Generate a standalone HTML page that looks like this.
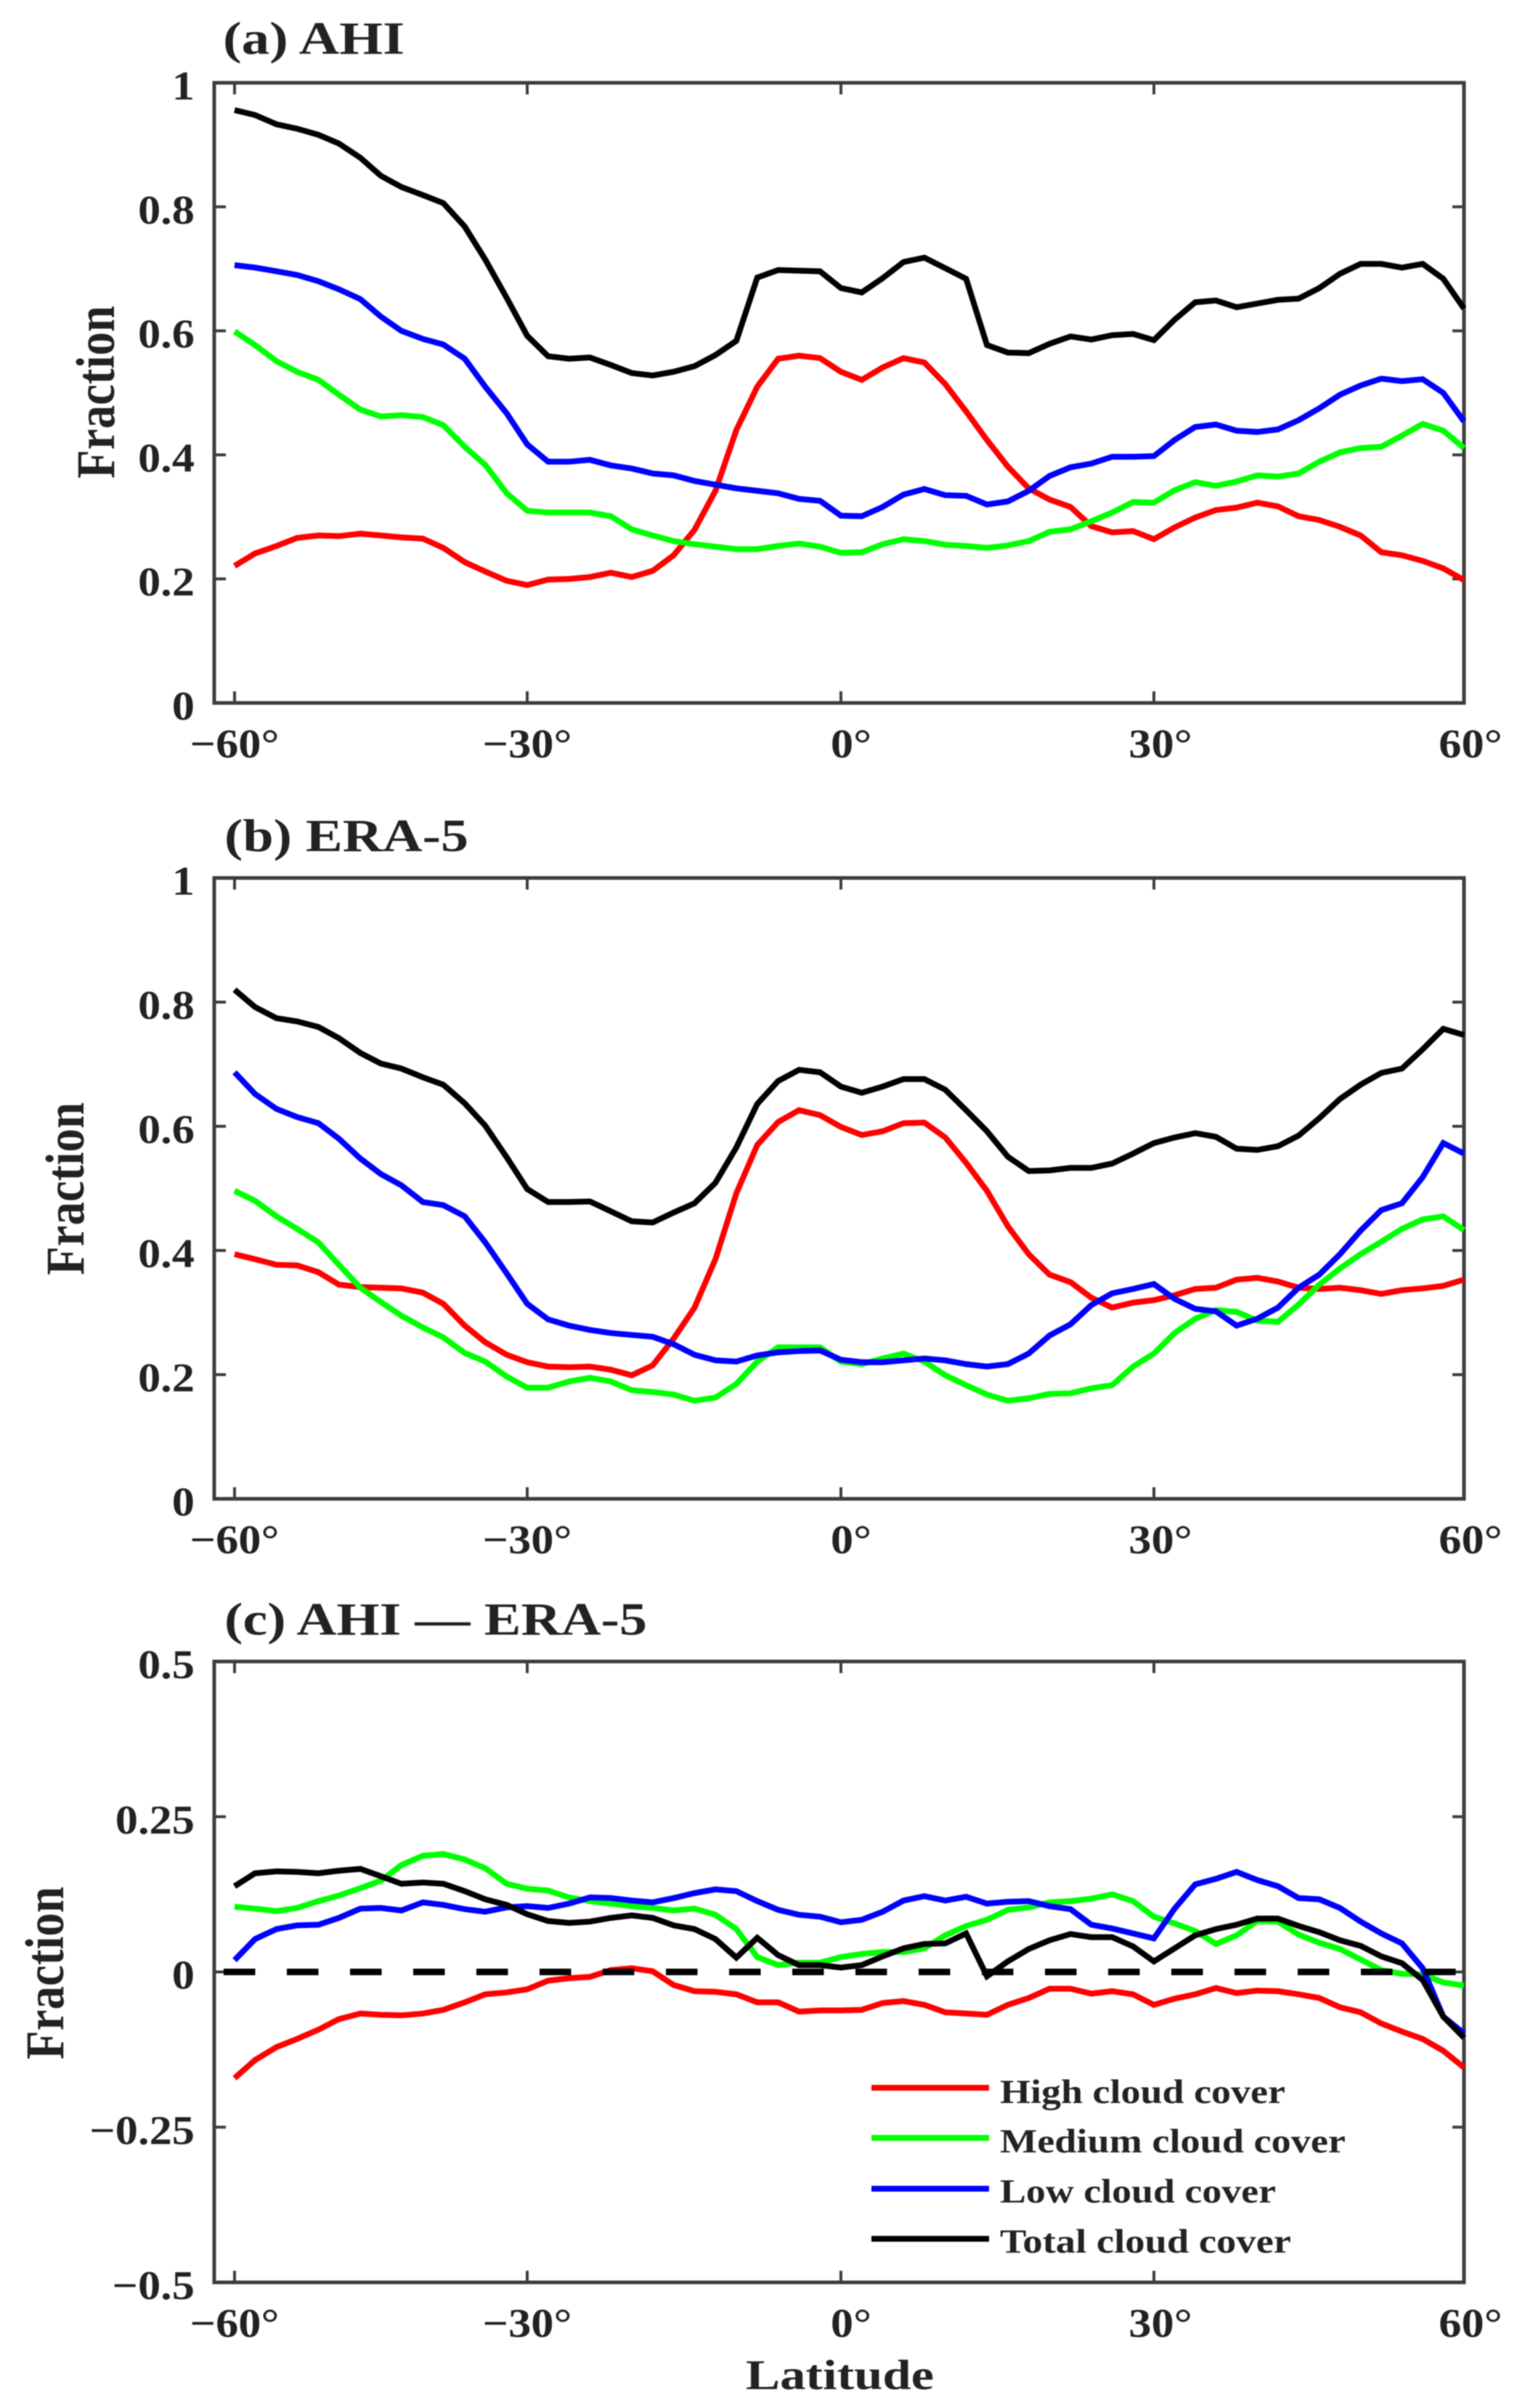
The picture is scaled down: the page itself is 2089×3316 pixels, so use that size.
<!DOCTYPE html>
<html lang="en">
<head>
<meta charset="utf-8">
<title>Cloud cover fraction by latitude</title>
<style>
html,body{margin:0;padding:0;background:#fff;width:2089px;height:3316px;overflow:hidden}
svg{display:block;filter:blur(0.8px)}
text{font-family:"Liberation Serif",serif;font-weight:bold;fill:#222}
</style>
</head>
<body>
<svg id="figure" xmlns="http://www.w3.org/2000/svg" width="2089" height="3316" viewBox="0 0 2089 3316">
  <rect x="0" y="0" width="2089" height="3316" fill="#fff"/>

  <g id="panel-a"></g>
  <g id="panel-b"></g>
  <g id="panel-c"></g>

  <text x="307" y="74" font-size="63" textLength="250" lengthAdjust="spacingAndGlyphs">(a) AHI</text>
  <text x="309" y="1172" font-size="63" textLength="336" lengthAdjust="spacingAndGlyphs">(b) ERA-5</text>
  <text x="309" y="2251" font-size="63" textLength="582" lengthAdjust="spacingAndGlyphs">(c) AHI — ERA-5</text>

  <text transform="translate(157,659) rotate(-90)" font-size="75" textLength="238" lengthAdjust="spacingAndGlyphs">Fraction</text>
  <text transform="translate(115,1756) rotate(-90)" font-size="75" textLength="238" lengthAdjust="spacingAndGlyphs">Fraction</text>
  <text transform="translate(87,2836) rotate(-90)" font-size="75" textLength="238" lengthAdjust="spacingAndGlyphs">Fraction</text>

  <text x="1027" y="3290" font-size="58" textLength="259" lengthAdjust="spacingAndGlyphs">Latitude</text>

  <g>
    <line x1="1200" x2="1362" y1="2875" y2="2875" stroke="#ff0000" stroke-width="8"/>
    <text x="1377" y="2896" font-size="47" textLength="393" lengthAdjust="spacingAndGlyphs">High cloud cover</text>
    <line x1="1200" x2="1362" y1="2944" y2="2944" stroke="#00ff00" stroke-width="8"/>
    <text x="1377" y="2964" font-size="47" textLength="476" lengthAdjust="spacingAndGlyphs">Medium cloud cover</text>
    <line x1="1200" x2="1362" y1="3014" y2="3014" stroke="#0000ff" stroke-width="8"/>
    <text x="1377" y="3033" font-size="47" textLength="380" lengthAdjust="spacingAndGlyphs">Low cloud cover</text>
    <line x1="1200" x2="1362" y1="3083" y2="3083" stroke="#000000" stroke-width="8"/>
    <text x="1377" y="3102" font-size="47" textLength="401" lengthAdjust="spacingAndGlyphs">Total cloud cover</text>
  </g>
</svg>

<script>
// ---------- Chart data ----------
const latitudes = [-60,-57.9,-55.7,-53.6,-51.4,-49.3,-47.1,-45,-42.9,-40.7,-38.6,-36.4,-34.3,-32.1,-30,
  -28,-26,-24,-22,-20,-18,-16,-14,-12,-10,-8,-6,-4,-2,0,2,4,6,8,10,12,14,16,18,20,22,24,26,28,30,
  32,34,36,38,40,42,44,46,48,50,52,54,56,58,60];

const xTickValues = [-60,-30,0,30,60];
const xTickLabels = ['−60°','−30°','0°','30°','60°'];

const fractionTickValues = [0,0.2,0.4,0.6,0.8,1];
const fractionTickLabels = ['0','0.2','0.4','0.6','0.8','1'];
const differenceTickValues = [-0.5,-0.25,0,0.25,0.5];
const differenceTickLabels = ['−0.5','−0.25','0','0.25','0.5'];

const ahiHigh = [.221,.241,.253,.266,.270,.269,.273,.270,.267,.265,.250,.227,.212,.197,.190,
  .199,.200,.203,.210,.203,.213,.238,.279,.342,.440,.510,.555,.560,.556,.534,.521,.541,.556,.549,.514,.470,.424,.381,.346,.328,.316,.285,.275,.277,.264,
  .283,.299,.311,.315,.323,.317,.301,.295,.284,.270,.243,.238,.229,.217,.198];
const ahiMedium = [.599,.577,.551,.534,.521,.497,.473,.462,.464,.461,.448,.413,.384,.338,.310,
  .307,.307,.307,.301,.280,.270,.261,.256,.252,.248,.248,.253,.257,.252,.242,.243,.256,.264,.261,.255,.253,.250,.254,.261,.276,.280,.293,.307,.324,.323,
  .343,.356,.350,.357,.367,.365,.370,.389,.404,.411,.413,.431,.450,.439,.411];
const ahiLow = [.706,.702,.696,.690,.680,.667,.651,.623,.600,.587,.578,.555,.510,.467,.417,
  .389,.389,.392,.383,.378,.370,.367,.358,.352,.346,.342,.338,.329,.326,.302,.301,.316,.336,.345,.335,.334,.320,.325,.342,.366,.380,.386,.397,.397,.398,
  .424,.445,.449,.439,.437,.441,.456,.475,.497,.512,.523,.519,.522,.500,.454];
const ahiTotal = [.956,.948,.933,.926,.916,.902,.879,.850,.832,.819,.806,.768,.715,.653,.592,
  .559,.555,.557,.545,.532,.528,.534,.543,.561,.584,.686,.698,.697,.696,.669,.662,.685,.711,.718,.701,.684,.577,.565,.564,.579,.591,.586,.593,.595,.585,
  .618,.646,.649,.638,.644,.650,.652,.669,.692,.708,.708,.702,.708,.684,.636];

const eraHigh = [.394,.386,.377,.376,.365,.345,.341,.340,.339,.332,.314,.279,.252,.232,.220,
  .213,.212,.213,.208,.199,.215,.258,.308,.386,.492,.570,.607,.626,.618,.599,.586,.592,.605,.606,.582,.541,.496,.439,.394,.361,.349,.324,.308,.316,.320,
  .328,.338,.340,.353,.356,.350,.340,.338,.340,.336,.330,.336,.339,.343,.353];
const eraMedium = [.496,.480,.455,.435,.413,.377,.340,.317,.295,.276,.260,.235,.221,.197,.179,
  .179,.189,.195,.189,.175,.172,.168,.158,.163,.185,.221,.244,.244,.244,.221,.217,.226,.234,.221,.199,.183,.168,.158,.162,.169,.170,.178,.183,.213,.234,
  .267,.290,.304,.301,.287,.285,.313,.345,.371,.394,.414,.435,.450,.455,.433];
const eraLow = [.687,.652,.628,.615,.605,.580,.548,.523,.505,.478,.473,.455,.413,.363,.314,
  .289,.279,.272,.267,.264,.261,.249,.232,.223,.221,.231,.236,.238,.239,.224,.220,.220,.223,.226,.223,.217,.213,.217,.234,.263,.281,.312,.331,.338,.346,
  .322,.306,.302,.279,.290,.308,.340,.361,.394,.432,.465,.476,.518,.573,.556];
const eraTotal = [.820,.792,.774,.769,.760,.742,.718,.701,.693,.679,.667,.637,.601,.550,.499,
  .478,.478,.479,.463,.447,.445,.461,.476,.509,.566,.636,.673,.691,.687,.664,.654,.664,.676,.676,.659,.626,.592,.551,.528,.529,.533,.533,.540,.556,.573,
  .582,.589,.583,.564,.562,.568,.585,.613,.644,.667,.686,.693,.724,.757,.747];

const diffHigh = [-.171,-.142,-.121,-.108,-.093,-.076,-.067,-.069,-.070,-.067,-.061,-.049,-.036,-.033,-.028,
  -.014,-.010,-.008,.003,.006,.001,-.021,-.031,-.032,-.036,-.049,-.049,-.064,-.062,-.062,-.061,-.050,-.047,-.053,-.065,-.067,-.069,-.053,-.042,-.027,-.027,-.035,-.031,-.036,-.053,
  -.043,-.036,-.026,-.034,-.030,-.031,-.036,-.042,-.057,-.065,-.083,-.096,-.108,-.127,-.154];
const diffMedium = [.105,.102,.098,.103,.114,.123,.135,.147,.172,.187,.190,.181,.167,.142,.134,
  .131,.120,.114,.110,.106,.103,.099,.102,.092,.069,.024,.011,.015,.015,.024,.029,.032,.032,.038,.059,.074,.084,.100,.104,.112,.114,.118,.125,.114,.089,
  .078,.066,.045,.059,.082,.081,.060,.047,.037,.020,.003,-.003,-.004,-.017,-.022];
const diffLow = [.019,.053,.069,.075,.076,.087,.102,.103,.099,.112,.108,.101,.097,.104,.106,
  .103,.110,.120,.119,.115,.112,.119,.127,.133,.130,.114,.100,.092,.089,.080,.084,.097,.115,.122,.115,.121,.110,.113,.114,.106,.101,.076,.070,.062,.054,
  .102,.141,.150,.161,.148,.138,.119,.117,.103,.081,.062,.046,.006,-.072,-.099];
const diffTotal = [.138,.159,.162,.161,.159,.163,.166,.154,.142,.144,.142,.130,.117,.108,.093,
  .082,.079,.081,.087,.091,.087,.075,.069,.053,.023,.055,.027,.011,.011,.007,.011,.025,.038,.045,.046,.062,-.007,.017,.037,.051,.061,.056,.056,.041,.017,
  .038,.059,.069,.076,.086,.086,.074,.064,.051,.042,.025,.014,-.013,-.072,-.106];

// ---------- Axis functions ----------
const SVG_NS = 'http://www.w3.org/2000/svg';
const AXIS_COLOR = '#3d3d3d';
const LEFT = 295, RIGHT = 2016;

// The printed latitude axis has slightly uneven tick spacing, so x is piecewise linear between ticks.
function xScale(lat) {
  const anchors = [323, 726, 1158, 1589, 2016];
  let i = 0;
  while (i < xTickValues.length - 2 && lat > xTickValues[i + 1]) i++;
  const t = (lat - xTickValues[i]) / (xTickValues[i + 1] - xTickValues[i]);
  return anchors[i] + t * (anchors[i + 1] - anchors[i]);
}
function yScaleFor(vMin, vMax, bottom, top) {
  return function (v) { return bottom - (v - vMin) / (vMax - vMin) * (bottom - top); };
}
function make(parent, tag, attrs) {
  const el = document.createElementNS(SVG_NS, tag);
  Object.keys(attrs).forEach(function (k) { el.setAttribute(k, attrs[k]); });
  parent.appendChild(el);
  return el;
}

function drawPanel(id, yTickValues, yTickLabels, yScale, top, bottom, series) {
  const g = document.getElementById(id);

  const frame = make(g, 'rect', {x: LEFT, y: top, width: RIGHT - LEFT, height: bottom - top, fill: 'none', stroke: AXIS_COLOR, 'stroke-width': 5});
  
  

  xTickValues.forEach(function (lat, i) {
    const x = xScale(lat);
    const t1 = make(g, 'line', {x1: x, x2: x, y1: bottom, y2: bottom - 16, stroke: AXIS_COLOR, 'stroke-width': 4});
    
    
    const t2 = make(g, 'line', {x1: x, x2: x, y1: top, y2: top + 16, stroke: AXIS_COLOR, 'stroke-width': 4});
    
    
    const dx = lat < 0 ? 0 : (lat === 0 ? 14 : 9);
    const label = make(g, 'text', {transform: 'translate(' + (x + dx) + ',' + (bottom + 75) + ') scale(1.115 1)', 'font-size': 56, 'text-anchor': 'middle'});
    
    
    label.textContent = xTickLabels[i];
  });

  yTickValues.forEach(function (v, i) {
    const y = yScale(v);
    const t1 = make(g, 'line', {x1: LEFT, x2: LEFT + 16, y1: y, y2: y, stroke: AXIS_COLOR, 'stroke-width': 4});
    
    
    const t2 = make(g, 'line', {x1: RIGHT, x2: RIGHT - 16, y1: y, y2: y, stroke: AXIS_COLOR, 'stroke-width': 4});
    
    
    const label = make(g, 'text', {transform: 'translate(268,' + (y + 23) + ') scale(1.115 1)', 'font-size': 56, 'text-anchor': 'end'});
    
    
    label.textContent = yTickLabels[i];
  });

  series.forEach(function (s) {
    const pts = s.values.map(function (v, i) {
      return xScale(latitudes[i]).toFixed(1) + ',' + yScale(v).toFixed(1);
    }).join(' ');
    const line = make(g, 'polyline', {points: pts, fill: 'none', stroke: s.color, 'stroke-width': 8, 'stroke-linejoin': 'miter'});
    
    
  });
}

const RED = '#ff0000', GREEN = '#00ff00', BLUE = '#0000ff', BLACK = '#000000';

drawPanel('panel-a', fractionTickValues, fractionTickLabels, yScaleFor(0, 1, 968, 114), 114, 968, [
  {values: ahiHigh, color: RED, name: 'ahi-high-cloud-line'},
  {values: ahiMedium, color: GREEN, name: 'ahi-medium-cloud-line'},
  {values: ahiLow, color: BLUE, name: 'ahi-low-cloud-line'},
  {values: ahiTotal, color: BLACK, name: 'ahi-total-cloud-line'}
]);

drawPanel('panel-b', fractionTickValues, fractionTickLabels, yScaleFor(0, 1, 2064, 1209), 1209, 2064, [
  {values: eraHigh, color: RED, name: 'era5-high-cloud-line'},
  {values: eraMedium, color: GREEN, name: 'era5-medium-cloud-line'},
  {values: eraLow, color: BLUE, name: 'era5-low-cloud-line'},
  {values: eraTotal, color: BLACK, name: 'era5-total-cloud-line'}
]);

const yDiff = yScaleFor(-0.5, 0.5, 3143, 2288);
drawPanel('panel-c', differenceTickValues, differenceTickLabels, yDiff, 2288, 3143, [
  {values: diffHigh, color: RED, name: 'diff-high-cloud-line'},
  {values: diffMedium, color: GREEN, name: 'diff-medium-cloud-line'},
  {values: diffLow, color: BLUE, name: 'diff-low-cloud-line'},
  {values: diffTotal, color: BLACK, name: 'diff-total-cloud-line'}
]);

const zeroLine = make(document.getElementById('panel-c'), 'line', {x1: 308, x2: 2008, y1: yDiff(0), y2: yDiff(0), stroke: '#000', 'stroke-width': 9, 'stroke-dasharray': '43.5 43.5'});


</script>
</body>
</html>
